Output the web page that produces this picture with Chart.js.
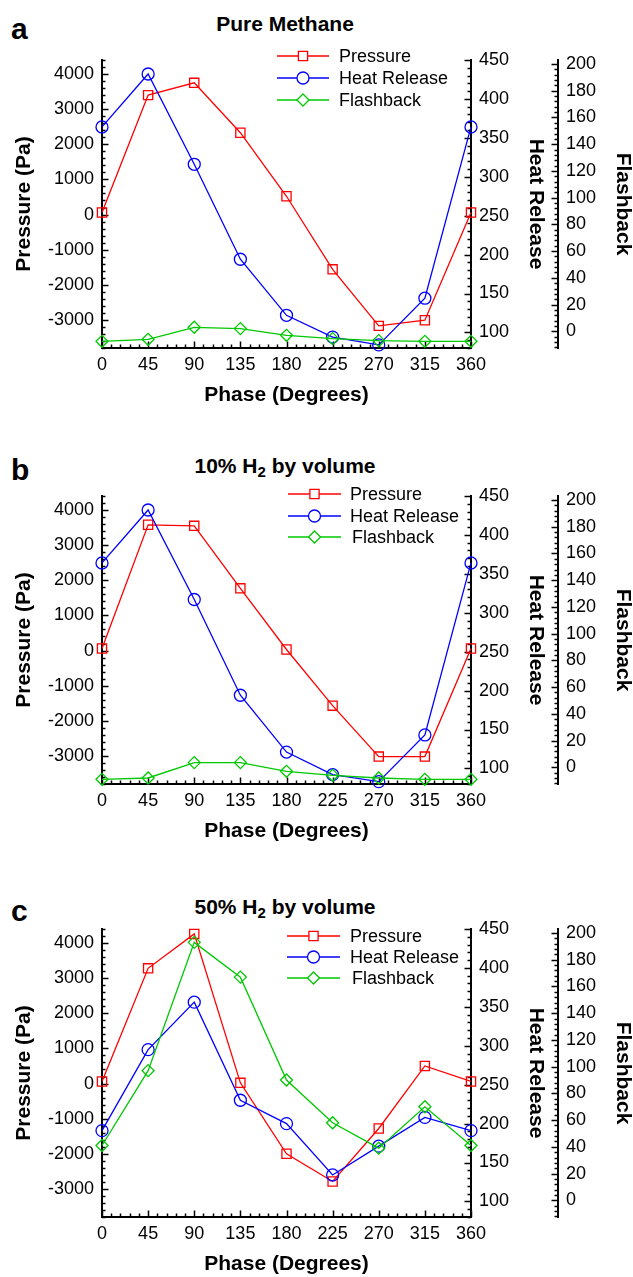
<!DOCTYPE html>
<html>
<head>
<meta charset="utf-8">
<script src="https://cdn.jsdelivr.net/npm/chart.js@4.4.1/dist/chart.umd.min.js"></script>
<style>
  html, body { margin:0; padding:0; background:#fff; }
  body { width:633px; height:1277px; position:relative; overflow:hidden; font-family:"Liberation Sans", Arial, sans-serif; color:#000; }
  canvas.panel { position:absolute; left:0; width:633px; height:408px; }
  .ptitle { position:absolute; left:0; width:570px; text-align:center; font-weight:bold; font-size:21px; line-height:21px; white-space:nowrap; }
  .ptitle sub { font-size:15px; vertical-align:-4px; line-height:0; }
  .letter { position:absolute; left:11px; font-weight:bold; font-size:30px; line-height:30px; }
</style>
</head>
<body>
<div class="letter" style="top:14px">a</div>
<div class="ptitle" style="top:13px">Pure Methane</div>
<canvas id="ca" class="panel" width="633" height="408" style="top:0px"></canvas>

<div class="letter" style="top:455px">b</div>
<div class="ptitle" style="top:455px">10% H<sub>2</sub> by volume</div>
<canvas id="cb" class="panel" width="633" height="408" style="top:436px"></canvas>

<div class="letter" style="top:896px">c</div>
<div class="ptitle" style="top:896px">50% H<sub>2</sub> by volume</div>
<canvas id="cc" class="panel" width="633" height="408" style="top:869px"></canvas>

<script>
// ---- data ----
const phases = [0, 45, 90, 135, 180, 225, 270, 315, 360];
const seriesNames = ['Pressure', 'Heat Release', 'Flashback'];

// tick labels
const phaseTicks    = [0, 45, 90, 135, 180, 225, 270, 315, 360];
const pressureTicks = [-3000, -2000, -1000, 0, 1000, 2000, 3000, 4000];
const heatTicks     = [100, 150, 200, 250, 300, 350, 400, 450];
const flashTicks    = [0, 20, 40, 60, 80, 100, 120, 140, 160, 180, 200];

const pressureA = [60, 3400, 3750, 2330, 520, -1560, -3170, -3010, 60];
const heatA     = [364, 432, 316, 194, 122, 94, 84, 144, 364];
const flashA    = [-7.5, -6, 3, 2, -3, -5.5, -7, -7.5, -7.5];

const pressureB = [60, 3580, 3550, 1770, 30, -1570, -3020, -3020, 60];
const heatB     = [364, 432, 317, 194, 121, 92, 83, 143, 364];
const flashB    = [-9, -8, 3.5, 3.5, -3, -6, -8, -9, -9];

const pressureC = [60, 3280, 4260, 20, -2000, -2790, -1280, 500, 60];
const heatC     = [191, 295, 356, 230, 200, 134, 171, 208, 191];
const flashC    = [41, 97, 193, 167, 90, 58, 39, 70, 41];

// ---- style ----
const FONT = '"Liberation Sans", Arial, sans-serif';
const RED = '#ff0000', BLUE = '#0000ff', GREEN = '#00c800';

const tickSpecs = {
  x:  { minor: 9,   major: 45 },
  y:  { minor: 200, major: 1000 },
  y1: { minor: 10,  major: 50 },
  y2: { minor: 4,   major: 20 }
};

const inwardTicks = {
  id: 'inwardTicks',
  beforeDatasetsDraw(chart) {
    const ctx = chart.ctx;
    ctx.save();
    ctx.strokeStyle = '#000';
    ctx.lineWidth = 1.5;
    for (const id of Object.keys(tickSpecs)) {
      const s = chart.scales[id];
      const spec = tickSpecs[id];
      const n0 = Math.ceil(s.min / spec.minor - 1e-9);
      const n1 = Math.floor(s.max / spec.minor + 1e-9);
      for (let n = n0; n <= n1; n++) {
        const v = n * spec.minor;
        const r = v / spec.major;
        const isMajor = Math.abs(r - Math.round(r)) < 1e-6;
        const len = isMajor ? 6.5 : 3.5;
        const p = Math.round(s.getPixelForValue(v)) + 0.5;
        ctx.beginPath();
        if (id === 'x') { ctx.moveTo(p, s.top); ctx.lineTo(p, s.top - len); }
        else if (id === 'y') { ctx.moveTo(s.right, p); ctx.lineTo(s.right + len, p); }
        else { ctx.moveTo(s.left, p); ctx.lineTo(s.left - len, p); }
        ctx.stroke();
      }
    }
    ctx.restore();
  }
};

const customLegend = {
  id: 'customLegend',
  afterDraw(chart) {
    const lg = chart.options.plugins.customLegend;
    const ctx = chart.ctx;
    ctx.save();
    chart.data.datasets.forEach((ds, i) => {
      const y = lg.rows[i];
      ctx.strokeStyle = ds.borderColor;
      ctx.lineWidth = ds.borderWidth;
      ctx.beginPath();
      ctx.moveTo(lg.x0, y); ctx.lineTo(lg.x1, y);
      ctx.stroke();
      ctx.fillStyle = '#ffffff';
      ctx.strokeStyle = ds.borderColor;
      ctx.lineWidth = ds.pointBorderWidth;
      Chart.helpers.drawPoint(ctx, {
        pointStyle: ds.pointStyle, radius: ds.pointRadius, borderWidth: ds.pointBorderWidth, rotation: 0
      }, (lg.x0 + lg.x1) / 2, y);
      ctx.fillStyle = '#000';
      ctx.font = '18px ' + FONT;
      ctx.textBaseline = 'middle';
      ctx.textAlign = 'left';
      ctx.fillText(ds.label, lg.tx + (lg.indent[i] || 0), y + 1);
    });
    ctx.restore();
  }
};

function makeDataset(label, values, axis, color, style, radius, order) {
  return {
    label, yAxisID: axis, order,
    data: phases.map((p, i) => ({ x: p, y: values[i] })),
    borderColor: color, backgroundColor: 'rgba(0,0,0,0)',
    borderWidth: 1.3, pointStyle: style, pointRadius: radius,
    pointBorderColor: color, pointBackgroundColor: 'rgba(0,0,0,0)',
    pointBorderWidth: 1.3, tension: 0, clip: false
  };
}

function axisBase(tickValues) {
  return {
    grid: { display: true, drawOnChartArea: false, drawTicks: false },
    border: { display: true, color: '#000', width: 2 },
    afterBuildTicks: s => { s.ticks = tickValues.map(v => ({ value: v })); }
  };
}

function makePanel(id, pressure, heat, flash, legend) {
  const tickFont = { family: FONT, size: 18 };
  const titleFont = { family: FONT, size: 21, weight: 'bold' };
  const fmt = v => String(v);
  new Chart(document.getElementById(id), {
    type: 'line',
    data: {
      datasets: [
        makeDataset(seriesNames[0], pressure, 'y', RED, 'rect', 6.5, 3),
        makeDataset(seriesNames[1], heat, 'y1', BLUE, 'circle', 6, 2),
        makeDataset(seriesNames[2], flash, 'y2', GREEN, 'rectRot', 6, 1)
      ]
    },
    options: {
      responsive: false, animation: false, devicePixelRatio: 1,
      layout: { padding: { top: 60, left: 0, right: 0, bottom: 0 } },
      plugins: { legend: { display: false }, tooltip: { enabled: false }, customLegend: legend },
      scales: {
        x: Object.assign(axisBase(phaseTicks), {
          type: 'linear', position: 'bottom', min: 0, max: 360,
          afterFit: s => { s.height = 60; },
          ticks: { autoSkip: false, maxRotation: 0, padding: 6, color: '#000', font: tickFont, callback: fmt },
          title: { display: true, text: 'Phase (Degrees)', color: '#000', font: titleFont, padding: { top: 0, bottom: 0 } }
        }),
        y: Object.assign(axisBase(pressureTicks), {
          type: 'linear', position: 'left', min: -3800, max: 4400,
          afterFit: s => { s.width = 102; },
          ticks: { autoSkip: false, padding: 8, color: '#000', font: tickFont, callback: fmt },
          title: { display: true, text: 'Pressure (Pa)', color: '#000', font: titleFont, padding: { top: 11.5, bottom: 0 } }
        }),
        y1: Object.assign(axisBase(heatTicks), {
          type: 'linear', position: 'right', min: 80, max: 450,
          afterFit: s => { s.width = 87; },
          ticks: { autoSkip: false, padding: 8, color: '#000', font: tickFont, callback: fmt },
          title: { display: true, text: 'Heat Release', color: '#000', font: titleFont, padding: { top: 10, bottom: 0 } }
        }),
        y2: Object.assign(axisBase(flashTicks), {
          type: 'linear', position: 'right', min: -12.5, max: 203,
          afterFit: s => { s.width = 75; },
          ticks: { autoSkip: false, padding: 8, color: '#000', font: tickFont, callback: fmt },
          title: { display: true, text: 'Flashback', color: '#000', font: titleFont, padding: { top: -2, bottom: 0 } }
        })
      }
    },
    plugins: [inwardTicks, customLegend]
  });
}

makePanel('ca', pressureA, heatA, flashA, { x0: 277, x1: 329, tx: 339, rows: [56, 78, 100], indent: [0, 0, 0] });
makePanel('cb', pressureB, heatB, flashB, { x0: 288, x1: 341, tx: 350, rows: [58, 80, 101], indent: [0, 0, 2] });
makePanel('cc', pressureC, heatC, flashC, { x0: 287, x1: 340, tx: 350, rows: [67, 88, 109], indent: [0, 0, 2] });
</script>
</body>
</html>
